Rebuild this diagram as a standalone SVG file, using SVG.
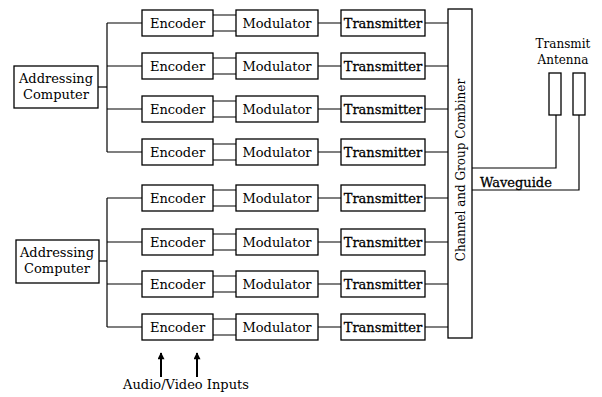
<svg xmlns="http://www.w3.org/2000/svg" width="602" height="397" viewBox="0 0 602 397">
<defs>
<style>
rect.b{fill:#fff;stroke:#000;stroke-width:1.3}
text{font-family:"DejaVu Serif","Liberation Serif",serif;font-size:13px;fill:#000;text-anchor:middle}
text.bd{stroke:#000;stroke-width:0.3}
.c line,.c polyline,.c path{stroke:#000;stroke-width:1.2;fill:none}
</style>
<marker id="ah" viewBox="0 0 10 10" refX="9" refY="5" markerWidth="8" markerHeight="7" orient="auto" markerUnits="userSpaceOnUse">
<path d="M0,0 L10,5 L0,10 z" fill="#000"/>
</marker>
</defs>
<rect width="602" height="397" fill="#fff"/>

<g class="c" id="connectors">
<!-- Addressing computer 1 bus -->
<line x1="98" y1="87" x2="107" y2="87"/>
<line x1="107" y1="23" x2="107" y2="152"/>
<line x1="107" y1="23" x2="142" y2="23"/>
<line x1="107" y1="66" x2="142" y2="66"/>
<line x1="107" y1="109" x2="142" y2="109"/>
<line x1="107" y1="152" x2="142" y2="152"/>
<!-- Addressing computer 2 bus -->
<line x1="99" y1="261" x2="107" y2="261"/>
<line x1="107" y1="198" x2="107" y2="327"/>
<line x1="107" y1="198" x2="142" y2="198"/>
<line x1="107" y1="242" x2="142" y2="242"/>
<line x1="107" y1="284" x2="142" y2="284"/>
<line x1="107" y1="327" x2="142" y2="327"/>
<!-- Encoder to Modulator (double lines) -->
<path d="M213,15 H236 M213,31 H236 M213,58 H236 M213,74 H236 M213,101 H236 M213,117 H236 M213,144 H236 M213,160 H236 M213,190 H236 M213,206 H236 M213,234 H236 M213,250 H236 M213,276 H236 M213,292 H236 M213,319 H236 M213,335 H236"/>
<!-- Modulator to Transmitter -->
<path d="M318,23 H341 M318,66 H341 M318,109 H341 M318,152 H341 M318,198 H341 M318,242 H341 M318,284 H341 M318,327 H341"/>
<!-- Transmitter to Combiner -->
<path d="M425,23 H448 M425,66 H448 M425,109 H448 M425,152 H448 M425,198 H448 M425,242 H448 M425,284 H448 M425,327 H448"/>
<!-- Waveguides -->
<polyline points="472,168 556,168 556,115"/>
<polyline points="472,190 579,190 579,115"/>
<!-- Input arrows -->
<line x1="161" y1="377" x2="161" y2="353" style="stroke-width:2" marker-end="url(#ah)"/>
<line x1="197" y1="377" x2="197" y2="353" style="stroke-width:2" marker-end="url(#ah)"/>
</g>

<g id="addr1"><rect class="b" x="14" y="66" width="84" height="42"/><text x="56" y="83">Addressing</text><text x="56" y="99">Computer</text></g>
<g id="addr2"><rect class="b" x="16" y="240" width="83" height="43"/><text x="57" y="257">Addressing</text><text x="57" y="273">Computer</text></g>

<g id="enc1"><rect class="b" x="142" y="10" width="71" height="26"/><text x="177.5" y="28">Encoder</text></g>
<g id="enc2"><rect class="b" x="142" y="53" width="71" height="26"/><text x="177.5" y="71">Encoder</text></g>
<g id="enc3"><rect class="b" x="142" y="96" width="71" height="26"/><text x="177.5" y="114">Encoder</text></g>
<g id="enc4"><rect class="b" x="142" y="139" width="71" height="26"/><text x="177.5" y="157">Encoder</text></g>
<g id="enc5"><rect class="b" x="142" y="185" width="71" height="26"/><text x="177.5" y="203">Encoder</text></g>
<g id="enc6"><rect class="b" x="142" y="229" width="71" height="26"/><text x="177.5" y="247">Encoder</text></g>
<g id="enc7"><rect class="b" x="142" y="271" width="71" height="26"/><text x="177.5" y="289">Encoder</text></g>
<g id="enc8"><rect class="b" x="142" y="314" width="71" height="26"/><text x="177.5" y="332">Encoder</text></g>

<g id="mod1"><rect class="b" x="236" y="10" width="82" height="26"/><text x="277" y="28">Modulator</text></g>
<g id="mod2"><rect class="b" x="236" y="53" width="82" height="26"/><text x="277" y="71">Modulator</text></g>
<g id="mod3"><rect class="b" x="236" y="96" width="82" height="26"/><text x="277" y="114">Modulator</text></g>
<g id="mod4"><rect class="b" x="236" y="139" width="82" height="26"/><text x="277" y="157">Modulator</text></g>
<g id="mod5"><rect class="b" x="236" y="185" width="82" height="26"/><text x="277" y="203">Modulator</text></g>
<g id="mod6"><rect class="b" x="236" y="229" width="82" height="26"/><text x="277" y="247">Modulator</text></g>
<g id="mod7"><rect class="b" x="236" y="271" width="82" height="26"/><text x="277" y="289">Modulator</text></g>
<g id="mod8"><rect class="b" x="236" y="314" width="82" height="26"/><text x="277" y="332">Modulator</text></g>

<g id="tx1"><rect class="b" x="341" y="10" width="84" height="26"/><text class="bd" x="383" y="28">Transmitter</text></g>
<g id="tx2"><rect class="b" x="341" y="53" width="84" height="26"/><text class="bd" x="383" y="71">Transmitter</text></g>
<g id="tx3"><rect class="b" x="341" y="96" width="84" height="26"/><text class="bd" x="383" y="114">Transmitter</text></g>
<g id="tx4"><rect class="b" x="341" y="139" width="84" height="26"/><text class="bd" x="383" y="157">Transmitter</text></g>
<g id="tx5"><rect class="b" x="341" y="185" width="84" height="26"/><text class="bd" x="383" y="203">Transmitter</text></g>
<g id="tx6"><rect class="b" x="341" y="229" width="84" height="26"/><text class="bd" x="383" y="247">Transmitter</text></g>
<g id="tx7"><rect class="b" x="341" y="271" width="84" height="26"/><text class="bd" x="383" y="289">Transmitter</text></g>
<g id="tx8"><rect class="b" x="341" y="314" width="84" height="26"/><text class="bd" x="383" y="332">Transmitter</text></g>

<g id="combiner"><rect class="b" x="448" y="9" width="24" height="329"/><text x="0" y="0" style="font-size:12px" transform="translate(464.5,170) rotate(-90)">Channel and Group Combiner</text></g>

<g id="antenna1"><rect class="b" x="549" y="73" width="12" height="42"/></g>
<g id="antenna2"><rect class="b" x="573" y="73" width="12" height="42"/></g>
<text x="563" y="48" style="font-size:12px">Transmit</text>
<text x="563" y="64" style="font-size:12px">Antenna</text>
<text class="bd" x="480" y="187" style="text-anchor:start">Waveguide</text>
<text x="186" y="389">Audio/Video Inputs</text>
</svg>
